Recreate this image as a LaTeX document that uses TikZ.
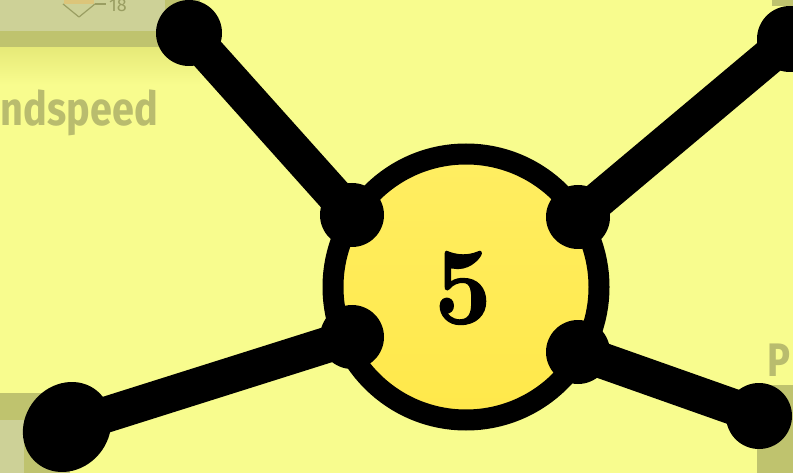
\documentclass[tikz,border=0pt]{standalone}
\usepackage{graphicx}
\usepackage{fontspec}
\newfontfamily\labelfont{Fira Sans}
\newfontfamily\numfont{lmroman10-bold}[Extension=.otf, FakeBold=1.1]
\usetikzlibrary{shapes.geometric}
\definecolor{bg}{HTML}{F8FC8E}
\definecolor{bgshadow}{HTML}{E6E978}
\definecolor{ringtop}{HTML}{FFEE62}
\definecolor{ringbottom}{HTML}{FFE84A}
\definecolor{boxdark}{HTML}{BFC36E}
\definecolor{boxlight}{HTML}{CDD197}
\definecolor{fadetext}{HTML}{B9BC6E}
\definecolor{icontext}{HTML}{9A9E62}
\definecolor{iconfill}{HTML}{DCC57A}
\begin{document}
\begin{tikzpicture}[x=1pt,y=-1pt,
  junction/.style={circle, fill=black, inner sep=0pt, minimum size=64pt},
  endblob/.style={circle, fill=black, inner sep=0pt, minimum size=66pt},
  edge/.style={line width=36pt, black},
  faded/.style={text=fadetext, font=\labelfont\bfseries\fontsize{47}{47}\selectfont, inner sep=0pt}]
\useasboundingbox (0,0) rectangle (793,473);
\fill[bg] (0,0) rectangle (793,473);
% faint shadow under the top-left box
\shade[top color=bgshadow, bottom color=bg] (0,47) rectangle (200,85);
% partial background boxes
\fill[boxdark] (0,0) rectangle (200,47);
\fill[boxlight] (0,0) rectangle (165,31);
\fill[boxdark] (772,0) rectangle (793,6);
\fill[boxdark] (0,393) rectangle (70,473);
\fill[boxlight] (0,420) rectangle (24,473);
\fill[boxdark] (757,385) rectangle (793,473);
% small icon and count
\fill[iconfill] (64,-2) rectangle (94,4.5);
\draw[icontext, line width=1.2pt, line join=round] (63,4) -- (79,17) -- (95,4);
\draw[icontext, line width=1.2pt] (95,4) -- (106,4);
\node[text=icontext, font=\labelfont\fontsize{18}{18}\selectfont, inner sep=0pt, anchor=base west] (count) at (109,12) {18};
% faded labels
\node[faded, anchor=base east] (ws) at (158,126) {\resizebox{157pt}{\height}{ndspeed}};
\node[faded, anchor=base west] (p) at (767,377) {\resizebox{23pt}{\height}{P}};
% central node
\node[circle, draw=black, line width=21pt, top color=ringtop, bottom color=ringbottom, minimum size=266pt, inner sep=0pt] (hub) at (466,287) {};
\node[font=\numfont\fontsize{110}{110}\selectfont, inner sep=0pt] (num) at (463,288) {\resizebox{57pt}{\height}{5}};
% junction blobs on the ring
\node[junction] (jtl) at (352,215) {};
\node[junction] (jtr) at (578,217) {};
\node[junction] (jbl) at (352,337) {};
\node[junction] (jbr) at (578,352) {};
% end blobs
\node[endblob] (etl) at (189,33) {};
\node[endblob] (etr) at (790,39) {};
\node[endblob, ellipse, minimum width=94pt, minimum height=84pt, rotate=50] (ebl) at (67,427) {};
\node[endblob] (ebr) at (759,416) {};
% connectors
\draw[edge] (etl.center) -- (jtl.center);
\draw[edge] (etr.center) -- (jtr.center);
\draw[edge] (ebl.center) -- (jbl.center);
\draw[edge] (ebr.center) -- (jbr.center);
\end{tikzpicture}
\end{document}
